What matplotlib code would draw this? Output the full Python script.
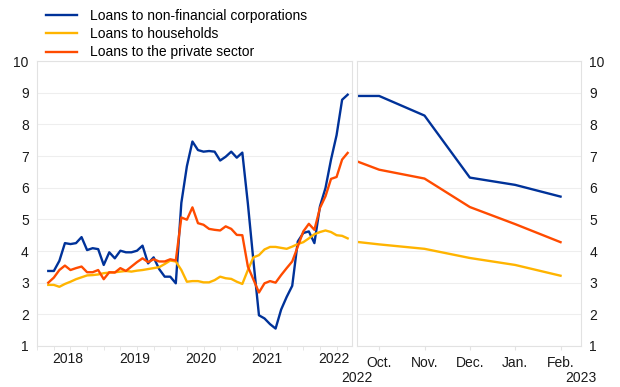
import numpy as np
import matplotlib.pyplot as plt

plt.rcParams['font.family'] = ['Liberation Sans', 'DejaVu Sans']
plt.rcParams['font.size'] = 10

# monthly series, Mar 2018 - Sep 2022 (annual % changes)
nfc = [3.37, 3.37, 3.69, 4.25, 4.22, 4.25, 4.44, 4.03, 4.09, 4.06,
       3.56, 3.96, 3.77, 4.01, 3.96, 3.96, 4.01, 4.17, 3.61, 3.80,
       3.43, 3.19, 3.19, 2.98, 5.52, 6.68, 7.46, 7.19, 7.14, 7.16,
       7.14, 6.86, 6.98, 7.14, 6.95, 7.11, 5.50, 3.69, 1.97, 1.87,
       1.69, 1.55, 2.15, 2.55, 2.90, 4.30, 4.57, 4.62, 4.25, 5.41,
       5.99, 6.89, 7.66, 8.78, 8.94]
households = [2.93, 2.93, 2.87, 2.96, 3.03, 3.11, 3.17, 3.23, 3.24, 3.26,
              3.30, 3.32, 3.33, 3.35, 3.37, 3.35, 3.38, 3.40, 3.43, 3.46,
              3.49, 3.59, 3.70, 3.67, 3.40, 3.03, 3.05, 3.05, 3.01, 3.01,
              3.08, 3.19, 3.14, 3.12, 3.03, 2.96, 3.40, 3.80, 3.87, 4.05,
              4.13, 4.13, 4.10, 4.07, 4.14, 4.22, 4.28, 4.40, 4.53, 4.60,
              4.65, 4.60, 4.50, 4.48, 4.40]
private = [3.00, 3.16, 3.40, 3.54, 3.40, 3.46, 3.51, 3.33, 3.33, 3.40,
           3.11, 3.33, 3.32, 3.46, 3.37, 3.51, 3.65, 3.77, 3.65, 3.74,
           3.67, 3.67, 3.74, 3.70, 5.06, 4.99, 5.38, 4.88, 4.83, 4.70,
           4.67, 4.65, 4.78, 4.70, 4.51, 4.50, 3.51, 3.10, 2.69, 2.98,
           3.05, 3.00, 3.24, 3.46, 3.67, 4.14, 4.62, 4.86, 4.67, 5.36,
           5.73, 6.28, 6.34, 6.89, 7.10]
years = ['2018', '2019', '2020', '2021', '2022']
first_month = 3                     # series starts in March 2018

# right panel: latest observation, then Oct 2022 - Feb 2023
months = ['Oct.', 'Nov.', 'Dec.', 'Jan.', 'Feb.']
nfc_r = [8.90, 8.90, 8.28, 6.32, 6.09, 5.72]
households_r = [4.29, 4.21, 4.07, 3.78, 3.56, 3.22]
private_r = [6.84, 6.57, 6.29, 5.39, 4.85, 4.28]

blue, yellow, orange = '#003299', '#ffb400', '#ff4b00'
frame_c, grid_c = '#e2e2e2', '#eeeeee'
txt_c = '#1a1a1a'

fig = plt.figure(figsize=(6.2, 3.87), dpi=100)
ax1 = fig.add_axes([0.060, 0.106, 0.507, 0.736])
ax2 = fig.add_axes([0.575, 0.106, 0.362, 0.736])

t = np.arange(len(nfc))
ax1.plot(t, nfc, color=blue, lw=1.7, label='Loans to non-financial corporations')
ax1.plot(t, households, color=yellow, lw=1.7, label='Loans to households')
ax1.plot(t, private, color=orange, lw=1.7, label='Loans to the private sector')

tr = np.r_[-0.5, np.arange(len(months))]
ax2.plot(tr, nfc_r, color=blue, lw=1.7)
ax2.plot(tr, households_r, color=yellow, lw=1.7)
ax2.plot(tr, private_r, color=orange, lw=1.7)

for ax in (ax1, ax2):
	ax.set_ylim(1, 10)
	ax.set_yticks(range(1, 11))
	ax.grid(axis='y', color=grid_c, lw=0.8)
	ax.set_axisbelow(True)
	for s in ax.spines.values():
		s.set_color(frame_c)
		s.set_linewidth(0.8)
	ax.tick_params(axis='y', length=0, pad=6, colors=txt_c, labelsize=10)
	ax.tick_params(axis='x', which='both', color=frame_c, colors=txt_c, labelsize=10)

# left panel: year labels centred in each year, minor ticks at quarters
jan = np.arange(len(years)) * 12 - (first_month - 1)
ax1.set_xlim(-0.8, 54.7)
ax1.set_xticks(jan + 5.5)
ax1.set_xticklabels(years)
ax1.set_xticks(np.arange(jan[0], len(nfc), 3), minor=True)
ax1.tick_params(axis='x', which='major', length=0, pad=4)
ax1.tick_params(axis='x', which='minor', length=3, color=frame_c)

ax2.set_xlim(-0.5, 4.45)
ax2.set_xticks(range(len(months)))
ax2.set_xticklabels(months)
ax2.tick_params(axis='x', length=3, pad=4, color=frame_c, labelcolor=txt_c)
ax2.yaxis.tick_right()
ax2.tick_params(axis='y', labelright=True, labelleft=False)
ax2.text(-0.5, -0.088, '2022', transform=ax2.get_xaxis_transform(), ha='center', va='top', color=txt_c)
ax2.text(4.45, -0.088, '2023', transform=ax2.get_xaxis_transform(), ha='center', va='top', color=txt_c)

fig.legend(loc='upper left', bbox_to_anchor=(0.060, 1.0), frameon=False, fontsize=10,
           handlelength=2.2, handletextpad=0.95, labelspacing=0.3, borderaxespad=0.25)

fig.savefig('out.png', dpi=100)
